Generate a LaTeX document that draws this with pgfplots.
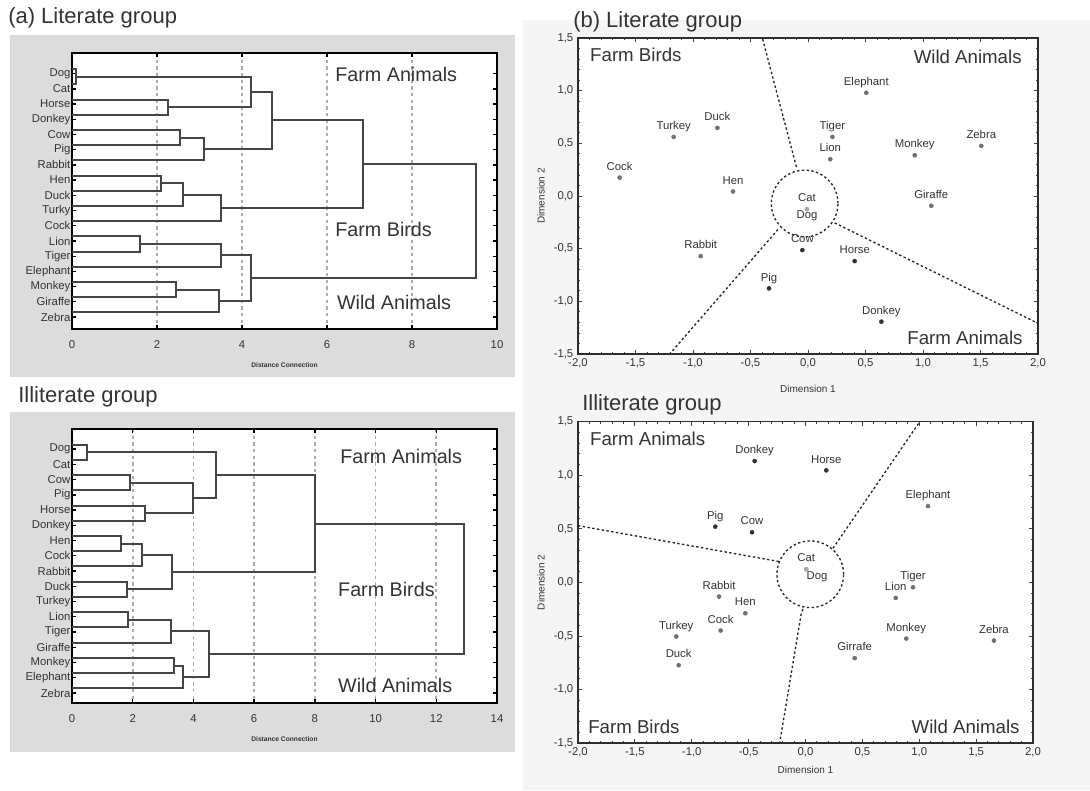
\documentclass[border=0pt]{standalone}
\usepackage{fontspec}
\setmainfont{Liberation Sans}
\usepackage{pgfplots}
\pgfplotsset{compat=1.18}
\usepackage{pgfplotstable}
\definecolor{panelgray}{HTML}{DCDCDC}
\definecolor{rightbg}{HTML}{F5F5F5}
\definecolor{dendro}{HTML}{454545}
\definecolor{gridgray}{HTML}{ADADAD}
\definecolor{ptdark}{HTML}{303030}
\definecolor{ptgray}{HTML}{707070}
\definecolor{ptlight}{HTML}{A8A8A8}
\definecolor{txt}{HTML}{333333}

\tikzset{part/.style={gray!30!black, line width=1pt, dash pattern=on 1.8pt off 1.8pt},
  dl/.style={dendro, solid, line width=1.5pt, line join=miter, mark=none}}
\pgfplotsset{
  dendaxis/.style={
    scale only axis, anchor=north west, xmin=0, y dir=reverse,
    ytick={1,...,17},
    axis background/.style={fill=white},
    axis line style={line width=1.4pt,black},
    tick style={black,line width=1pt}, major tick length=3pt, tick align=inside,
    xmajorgrids,
    grid style={gridgray, line width=1.2pt, dash pattern=on 2.5pt off 2.5pt},
    xticklabel style={font=\fontsize{8.5}{9}\selectfont, text=txt, yshift=-5pt},
    yticklabel style={font=\fontsize{8.5}{9}\selectfont, inner xsep=1pt, text=txt},
    xlabel={Distance Connection},
    xlabel style={font=\fontsize{5}{6}\selectfont\bfseries, text=txt, yshift=-4pt},
    /pgf/number format/assume math mode=true,
  },
  mdsaxis/.style={
    scale only axis, anchor=north west,
    xmin=-2, xmax=2, ymin=-1.5, ymax=1.5,
    xtick={-2,-1.5,...,2}, ytick={-1.5,-1,...,1.5},
    minor tick num=4, tick align=inside,
    major tick length=3pt, minor tick length=1.5pt,
    tick style={gray!50!black, line width=0.6pt},
    axis line style={gray!35!black, line width=0.9pt},
    axis background/.style={fill=white},
    ticklabel style={font=\fontsize{8.5}{9}\selectfont, text=txt},
    /pgf/number format/use comma,
    /pgf/number format/fixed,
    /pgf/number format/fixed zerofill,
    /pgf/number format/precision=1,
    /pgf/number format/assume math mode=true,
    xlabel={Dimension 1}, ylabel={Dimension 2},
    label style={font=\fontsize{7.5}{8}\selectfont, text=txt},
  },
  pts/.style={only marks, mark=*, mark size=1.5pt, nodes near coords,
    point meta=explicit symbolic,
    nodes near coords style={font=\fontsize{8.5}{9}\selectfont, text=txt, anchor=base, yshift=5.5pt, inner sep=0pt}},
}

\begin{document}
\begin{tikzpicture}
\useasboundingbox (0,0) rectangle (817.5pt,-592.5pt);
\fill[rightbg] (392.25pt,-15pt) rectangle (817.5pt,-592.5pt);
\fill[panelgray] (7.5pt,-26.25pt) rectangle (386.25pt,-282.75pt);
\fill[panelgray] (7.5pt,-309pt) rectangle (386.25pt,-564pt);

\node[anchor=west, font=\fontsize{16.5}{18}\selectfont, text=txt, inner sep=0pt] at (6pt,-13.5pt) {(a) Literate group};
\node[anchor=west, font=\fontsize{16.5}{18}\selectfont, text=txt, inner sep=0pt] at (13.5pt,-297.75pt) {Illiterate group};
\node[anchor=west, font=\fontsize{16.5}{18}\selectfont, text=txt, inner sep=0pt] at (429.75pt,-16.5pt) {(b) Literate group};
\node[anchor=west, font=\fontsize{16.5}{18}\selectfont, text=txt, inner sep=0pt] at (436.5pt,-303.75pt) {Illiterate group};

% ---------- (a) Literate dendrogram
\begin{axis}[dendaxis, at={(54pt,-39.75pt)}, width=318.75pt, height=207pt,
  xmax=10, xtick={0,2,...,10}, ymin=-0.36, ymax=17.79,
  yticklabels={Dog,Cat,Horse,Donkey,Cow,Pig,Rabbit,Hen,Duck,Turky,Cock,Lion,Tiger,Elephant,Monkey,Giraffe,Zebra}]
\addplot[dl] coordinates {(0,0.7)(0.1,0.7)(0.1,1.7)(0,1.7)};
\addplot[dl] coordinates {(0,2.7)(2.25,2.7)(2.25,3.7)(0,3.7)};
\addplot[dl] coordinates {(0.1,1.2)(4.2,1.2)(4.2,3.2)(2.25,3.2)};
\addplot[dl] coordinates {(0,4.7)(2.55,4.7)(2.55,5.7)(0,5.7)};
\addplot[dl] coordinates {(2.55,5.2)(3.1,5.2)(3.1,6.7)(0,6.7)};
\addplot[dl] coordinates {(4.2,2.2)(4.7,2.2)(4.7,5.95)(3.1,5.95)};
\addplot[dl] coordinates {(0,7.7)(2.1,7.7)(2.1,8.7)(0,8.7)};
\addplot[dl] coordinates {(2.1,8.2)(2.6,8.2)(2.6,9.7)(0,9.7)};
\addplot[dl] coordinates {(2.6,8.95)(3.5,8.95)(3.5,10.7)(0,10.7)};
\addplot[dl] coordinates {(4.7,4.075)(6.85,4.075)(6.85,9.825)(3.5,9.825)};
\addplot[dl] coordinates {(0,11.7)(1.6,11.7)(1.6,12.7)(0,12.7)};
\addplot[dl] coordinates {(1.6,12.2)(3.5,12.2)(3.5,13.7)(0,13.7)};
\addplot[dl] coordinates {(0,14.7)(2.45,14.7)(2.45,15.7)(0,15.7)};
\addplot[dl] coordinates {(2.45,15.2)(3.45,15.2)(3.45,16.7)(0,16.7)};
\addplot[dl] coordinates {(3.5,12.95)(4.2,12.95)(4.2,15.95)(3.45,15.95)};
\addplot[dl] coordinates {(6.85,6.95)(9.5,6.95)(9.5,14.45)(4.2,14.45)};
\node[anchor=west, font=\fontsize{14.8}{16}\selectfont, text=txt, inner sep=0pt] at (axis cs:6.19,1.07) {Farm Animals};
\node[anchor=west, font=\fontsize{14.8}{16}\selectfont, text=txt, inner sep=0pt] at (axis cs:6.19,11.26) {Farm Birds};
\node[anchor=west, font=\fontsize{14.8}{16}\selectfont, text=txt, inner sep=0pt] at (axis cs:6.23,16.07) {Wild Animals};
\end{axis}

% ---------- Illiterate dendrogram
\begin{axis}[dendaxis, at={(54pt,-321.75pt)}, width=318.75pt, height=205.5pt,
  xmax=14, xtick={0,2,...,14}, ymin=-0.32, ymax=17.66,
  yticklabels={Dog,Cat,Cow,Pig,Horse,Donkey,Hen,Cock,Rabbit,Duck,Turkey,Lion,Tiger,Giraffe,Monkey,Elephant,Zebra}]
\addplot[dl] coordinates {(0,0.7)(0.5,0.7)(0.5,1.7)(0,1.7)};
\addplot[dl] coordinates {(0,2.7)(1.9,2.7)(1.9,3.7)(0,3.7)};
\addplot[dl] coordinates {(0,4.7)(2.4,4.7)(2.4,5.7)(0,5.7)};
\addplot[dl] coordinates {(1.9,3.2)(4.0,3.2)(4.0,5.2)(2.4,5.2)};
\addplot[dl] coordinates {(0.5,1.2)(4.75,1.2)(4.75,4.2)(4.0,4.2)};
\addplot[dl] coordinates {(0,6.7)(1.6,6.7)(1.6,7.7)(0,7.7)};
\addplot[dl] coordinates {(1.6,7.2)(2.3,7.2)(2.3,8.7)(0,8.7)};
\addplot[dl] coordinates {(0,9.7)(1.8,9.7)(1.8,10.7)(0,10.7)};
\addplot[dl] coordinates {(2.3,7.95)(3.3,7.95)(3.3,10.2)(1.8,10.2)};
\addplot[dl] coordinates {(4.75,2.7)(8.0,2.7)(8.0,9.075)(3.3,9.075)};
\addplot[dl] coordinates {(0,11.7)(1.85,11.7)(1.85,12.7)(0,12.7)};
\addplot[dl] coordinates {(1.85,12.2)(3.25,12.2)(3.25,13.7)(0,13.7)};
\addplot[dl] coordinates {(0,14.7)(3.35,14.7)(3.35,15.7)(0,15.7)};
\addplot[dl] coordinates {(3.35,15.2)(3.65,15.2)(3.65,16.7)(0,16.7)};
\addplot[dl] coordinates {(3.25,12.95)(4.5,12.95)(4.5,15.95)(3.65,15.95)};
\addplot[dl] coordinates {(8.0,5.8875)(12.9,5.8875)(12.9,14.45)(4.5,14.45)};
\node[anchor=west, font=\fontsize{14.8}{16}\selectfont, text=txt, inner sep=0pt] at (axis cs:8.83,1.46) {Farm Animals};
\node[anchor=west, font=\fontsize{14.8}{16}\selectfont, text=txt, inner sep=0pt] at (axis cs:8.76,10.2) {Farm Birds};
\node[anchor=west, font=\fontsize{14.8}{16}\selectfont, text=txt, inner sep=0pt] at (axis cs:8.76,16.5) {Wild Animals};
\end{axis}

% ---------- (b) Literate MDS
\begin{axis}[mdsaxis, at={(433.5pt,-28.5pt)}, width=345pt, height=237pt,
  xlabel style={yshift=-6pt}]
\addplot[part] coordinates {(-0.101,0.277)(-0.397,1.5)};
\addplot[part] coordinates {(-0.261,-0.318)(-1.203,-1.5)};
\addplot[part] coordinates {(0.232,-0.255)(2.0,-1.209)};
\draw[part] (axis cs:-0.029,-0.071) circle[radius=25pt];
\addplot[pts, ptgray] table[meta=label] {
x y label
0.507 0.980 Elephant
-1.168 0.561 Turkey
-0.788 0.647 Duck
0.212 0.561 Tiger
1.507 0.476 Zebra
0.928 0.387 Monkey
0.194 0.349 Lion
-1.638 0.175 Cock
-0.652 0.043 Hen
1.072 -0.093 Giraffe
-0.933 -0.571 Rabbit
};
\addplot[pts, ptdark] table[meta=label] {
x y label
-0.049 -0.514 Cow
0.406 -0.618 Horse
-0.339 -0.877 Pig
0.638 -1.193 Donkey
};
\addplot[pts, ptlight] table[meta=label] {
x y label
-0.009 -0.125 Cat
};
\addplot[pts, ptlight, nodes near coords style={yshift=-12.5pt}] table[meta=label] {
x y label
-0.009 -0.125 Dog
};
\node[anchor=west, font=\fontsize{14}{16}\selectfont, text=txt, inner sep=0pt] at (rel axis cs:0.026,0.946) {Farm Birds};
\node[anchor=east, font=\fontsize{14}{16}\selectfont, text=txt, inner sep=0pt] at (rel axis cs:0.965,0.94) {Wild Animals};
\node[anchor=east, font=\fontsize{14}{16}\selectfont, text=txt, inner sep=0pt] at (rel axis cs:0.967,0.051) {Farm Animals};
\end{axis}

% ---------- Illiterate MDS
\begin{axis}[mdsaxis, at={(433.5pt,-316.3pt)}, width=341.25pt, height=241pt]
\addplot[part] coordinates {(-2.0,0.530)(-0.227,0.194)};
\addplot[part] coordinates {(0.242,0.319)(1.004,1.5)};
\addplot[part] coordinates {(-0.022,-0.250)(-0.037,-0.287)(-0.227,-1.5)};
\draw[part] (axis cs:0.042,0.076) circle[radius=25pt];
\addplot[pts, ptgray] table[meta=label] {
x y label
1.077 0.713 Elephant
-0.760 -0.132 Rabbit
0.945 -0.045 Tiger
0.793 -0.145 Lion
-0.529 -0.288 Hen
-0.746 -0.449 Cock
-1.136 -0.505 Turkey
0.886 -0.524 Monkey
1.657 -0.543 Zebra
0.432 -0.707 Girrafe
-1.115 -0.773 Duck
};
\addplot[pts, ptdark] table[meta=label] {
x y label
-0.447 1.133 Donkey
0.183 1.046 Horse
-0.793 0.521 Pig
-0.470 0.468 Cow
};
\addplot[pts, ptlight] table[meta=label] {
x y label
0.007 0.123 Cat
};
\addplot[pts, ptlight, nodes near coords style={yshift=-13.5pt, xshift=8pt}] table[meta=label] {
x y label
0.007 0.123 Dog
};
\node[anchor=west, font=\fontsize{14}{16}\selectfont, text=txt, inner sep=0pt] at (rel axis cs:0.026,0.946) {Farm Animals};
\node[anchor=west, font=\fontsize{14}{16}\selectfont, text=txt, inner sep=0pt] at (rel axis cs:0.022,0.05) {Farm Birds};
\node[anchor=east, font=\fontsize{14}{16}\selectfont, text=txt, inner sep=0pt] at (rel axis cs:0.971,0.05) {Wild Animals};
\end{axis}
\end{tikzpicture}
\end{document}
